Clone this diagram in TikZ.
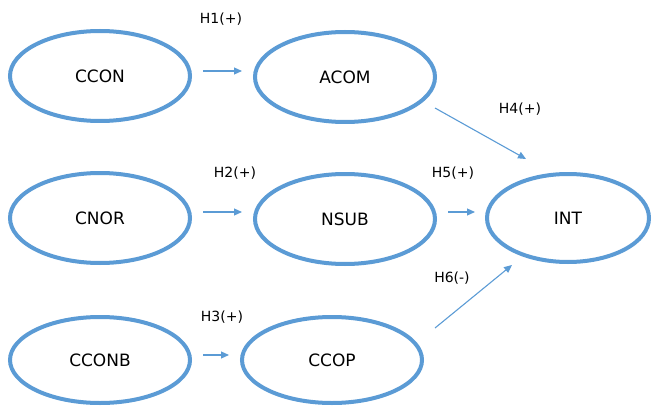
\documentclass[tikz,border=0pt]{standalone}
\usepackage{fontspec}
\setmainfont{DejaVu Sans}
\usetikzlibrary{shapes.geometric,arrows.meta,calc}
\definecolor{ovalblue}{HTML}{5B9BD5}
\tikzset{
  construct/.style={ellipse, draw=ovalblue, line width=4pt, fill=white,
    minimum width=180pt, minimum height=90pt, inner sep=0pt,
    font=\fontsize{17}{19}\selectfont},
  smallconstruct/.style={construct, minimum width=162pt, minimum height=88pt},
  lowconstruct/.style={construct, minimum height=86pt},
  path arrow/.style={draw=ovalblue, line width=1.1pt,
    -{Triangle[length=8pt,width=7pt]}},
  hyp/.style={font=\fontsize{14}{16}\selectfont, inner sep=0pt}
}
\begin{document}
\begin{tikzpicture}[x=1pt,y=-1pt]
  \useasboundingbox (0,0) rectangle (652,406);

  % constructs
  \node[construct] (ccon)  at (100,76)  {CCON};
  \node[construct] (acom)  at (345,77)  {ACOM};
  \node[construct] (cnor)  at (100,218) {CNOR};
  \node[construct] (nsub)  at (345,219) {NSUB};
  \node[smallconstruct] (int) at (568,218) {INT};
  \node[lowconstruct] (cconb) at (100,360) {CCONB};
  \node[lowconstruct] (ccop)  at (332,360) {CCOP};

  % start points of the horizontal paths (a little above the centre line)
  \coordinate (h1s) at ([yshift=5pt]ccon.east);
  \coordinate (h2s) at ([yshift=6pt]cnor.east);
  \coordinate (h3s) at ([yshift=5pt]cconb.east);
  \coordinate (h5s) at ([yshift=7pt]nsub.east);
  % end points of the diagonal paths
  \coordinate (h4s) at ($(acom.center)+(90,31)$);
  \coordinate (h4e) at ($(int.center)+(-42,-59)$);
  \coordinate (h6s) at ($(ccop.center)+(103,-32)$);
  \coordinate (h6e) at ($(int.center)+(-56,47)$);

  % hypothesised paths
  \draw[path arrow, shorten <=11pt, shorten >=11pt] (h1s) -- (h1s -| acom.west);
  \draw[path arrow, shorten <=11pt, shorten >=11pt] (h2s) -- (h2s -| nsub.west);
  \draw[path arrow, shorten <=11pt, shorten >=11pt] (h3s) -- (h3s -| ccop.west);
  \draw[path arrow, shorten <=11pt, shorten >=10pt] (h5s) -- (h5s -| int.west);
  \draw[path arrow] (h4s) -- (h4e);
  \draw[path arrow] (h6s) -- (h6e);

  % hypothesis labels
  \node[hyp] (l1) at (221,19)  {H1(+)};
  \node[hyp] (l2) at (235,173) {H2(+)};
  \node[hyp] (l3) at (222,317) {H3(+)};
  \node[hyp] (l4) at (520,109) {H4(+)};
  \node[hyp] (l5) at (453,173) {H5(+)};
  \node[hyp] (l6) at (452,278) {H6(-)};
\end{tikzpicture}
\end{document}
